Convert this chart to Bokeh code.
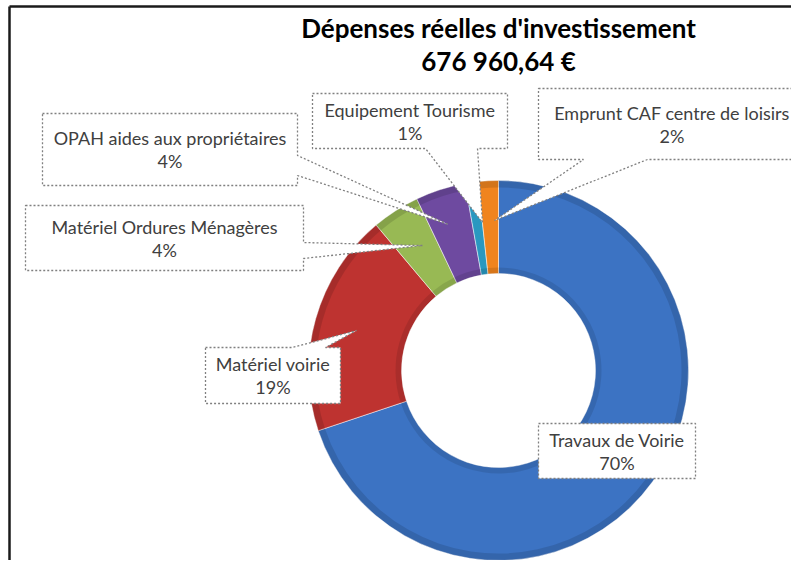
import numpy as np
from bokeh.plotting import figure
from bokeh.models import Range1d
from bokeh.core.properties import value
from bokeh.embed import file_html
from bokeh.resources import INLINE

# ---- data ----
title_lines = ["Dépenses réelles d'investissement", "676 960,64 €"]
categories = ["Travaux de Voirie", "Matériel voirie", "Matériel Ordures Ménagères",
              "OPAH aides aux propriétaires", "Equipement Tourisme",
              "Emprunt CAF centre de loisirs"]
values = [473000.00, 128600.00, 27500.00, 28800.00, 7400.00, 11660.64]
colors = ["#3C73C3", "#BE3330", "#98B954", "#6E4AA0", "#2A98C0", "#F0841E"]

# ---- layout ----
W, H = 791, 560
def Y(py):
    return H - py

p = figure(width=W, height=H, x_range=Range1d(0, W), y_range=Range1d(0, H),
           output_backend="svg", toolbar_location=None, min_border=0,
           x_axis_type=None, y_axis_type=None)
p.grid.visible = False
p.outline_line_color = None
p.background_fill_color = "white"

# frame (top and left edges visible in the crop)
p.line([9, W], [Y(6), Y(6)], line_color="#1a1a1a", line_width=2.5)
p.line([9, 9], [Y(6), 0], line_color="#1a1a1a", line_width=2.5)

# donut
cx, cy, R, r = 498, Y(370), 190, 97
vals = np.array(values)
total = vals.sum()
c1 = np.cumsum(vals) / total
c0 = np.concatenate([[0.0], c1[:-1]])
start = np.pi / 2 - 2 * np.pi * c1
end = np.pi / 2 - 2 * np.pi * c0
p.annular_wedge(x=cx, y=cy, inner_radius=r, outer_radius=R, start_angle=list(start),
                end_angle=list(end), fill_color=colors, line_color="#ffffff",
                line_alpha=0.5, line_width=1)
# bevel shading
p.annular_wedge(x=cx, y=cy, inner_radius=R - 7, outer_radius=R, start_angle=list(start),
                end_angle=list(end), fill_color="black", fill_alpha=0.12, line_color=None)
p.annular_wedge(x=cx, y=cy, inner_radius=r, outer_radius=r + 6, start_angle=list(start),
                end_angle=list(end), fill_color="black", fill_alpha=0.10, line_color=None)

# callouts: box (x0,y0,x1,y1) page coords, pointer side, base, tip
callouts = [
    dict(box=(538, 423, 695, 478), side=None),
    dict(box=(205, 347, 340, 403), side="top", base=(292, 325), tip=(356, 330)),
    dict(box=(25, 205, 303, 270), side="right", base=(242, 258), tip=(422, 245)),
    dict(box=(42, 113, 297, 185), side="right", base=(155, 175), tip=(448, 224)),
    dict(box=(312, 93, 507, 148), side="bottom", base=(425, 477), tip=(482, 222)),
    dict(box=(538, 88, 805, 159), side="bottom", base=(583, 647), tip=(494, 220)),
]
xs, ys = [], []
for c in callouts:
    x0, y0, x1, y1 = c["box"]
    s = c["side"]
    if s is None:
        pts = [(x0, y0), (x1, y0), (x1, y1), (x0, y1)]
    elif s == "right":
        a, b = c["base"]
        pts = [(x0, y0), (x1, y0), (x1, a), c["tip"], (x1, b), (x1, y1), (x0, y1)]
    elif s == "bottom":
        a, b = c["base"]
        pts = [(x0, y0), (x1, y0), (x1, y1), (b, y1), c["tip"], (a, y1), (x0, y1)]
    else:  # top
        a, b = c["base"]
        pts = [(x0, y0), (a, y0), c["tip"], (b, y0), (x1, y0), (x1, y1), (x0, y1)]
    xs.append([q[0] for q in pts])
    ys.append([Y(q[1]) for q in pts])
p.patches(xs, ys, fill_color="white", line_color="#808080", line_dash="2 2",
          line_width=1.3)

pcts = [f"{int(round(v / total * 100))}%" for v in values]
font = value("Lato")
for c, name, pc in zip(callouts, categories, pcts):
    x0, y0, x1, y1 = c["box"]
    mx = (x0 + x1) / 2
    my = (y0 + y1) / 2
    p.text(x=[mx, mx], y=[Y(my - 11.5), Y(my + 11.5)], text=[name, pc],
           text_align="center", text_baseline="middle", text_font=font,
           text_font_size="18px", text_color="#404040")

p.text(x=[498, 498], y=[Y(27), Y(60)], text=title_lines, text_align="center",
       text_baseline="middle", text_font=font, text_font_size="26px",
       text_font_style="bold", text_color="#000000")

open("out.html", "w").write(file_html(p, INLINE))
